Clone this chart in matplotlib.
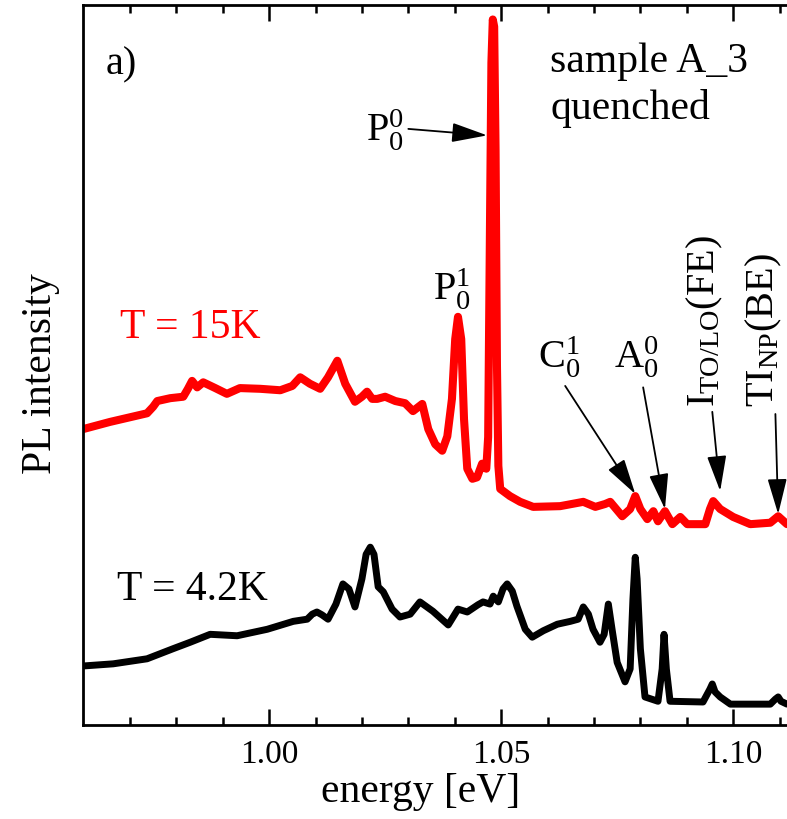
import matplotlib
matplotlib.use("Agg")
import matplotlib.pyplot as plt

# PL spectra, sample A_3 quenched
energy_15K = [0.9599, 0.9657, 0.9737, 0.9750, 0.9759, 0.9787, 0.9815, 0.9825, 0.9834,
              0.9845, 0.9858, 0.9884, 0.9909, 0.9937, 0.9981, 1.0024, 1.0050, 1.0067,
              1.0088, 1.0110, 1.0127, 1.0147, 1.0164, 1.0185, 1.0200, 1.0211, 1.0222,
              1.0233, 1.0250, 1.0272, 1.0293, 1.0310, 1.0330, 1.0343, 1.0358, 1.0373,
              1.0384, 1.0394, 1.0401, 1.0407, 1.0414, 1.0420, 1.0427, 1.0438, 1.0448,
              1.0459, 1.0468, 1.0472, 1.0476, 1.0479, 1.0482, 1.0485, 1.0488, 1.0491,
              1.0494, 1.0498, 1.0519, 1.0541, 1.0569, 1.0627, 1.0677, 1.0703, 1.0724,
              1.0735, 1.0761, 1.0778, 1.0789, 1.0800, 1.0815, 1.0828, 1.0838, 1.0853,
              1.0869, 1.0886, 1.0901, 1.0940, 1.0950, 1.0957, 1.0972, 1.1000, 1.1037,
              1.1080, 1.1097, 1.1116]
pl_15K = [41.1, 42.1, 43.3, 44.2, 45.0, 45.4, 45.6, 46.7, 47.8,
          46.9, 47.6, 46.8, 46.0, 46.8, 46.7, 46.5, 47.1, 48.3,
          47.4, 46.7, 48.3, 50.6, 47.4, 44.9, 45.6, 46.3, 45.3,
          45.3, 45.6, 45.0, 44.7, 43.6, 44.6, 41.1, 39.0, 38.1,
          40.1, 45.3, 53.6, 56.7, 53.6, 42.5, 35.6, 34.2, 34.4,
          36.3, 35.6, 40.0, 70.0, 92.0, 98.0, 97.0, 80.0, 50.0,
          36.0, 32.8, 31.8, 31.0, 30.3, 30.4, 31.0, 30.3, 30.7,
          31.0, 29.0, 30.0, 31.8, 30.0, 28.6, 29.7, 28.3, 29.7,
          27.9, 28.9, 27.9, 27.9, 30.0, 31.1, 30.0, 28.9, 27.9,
          28.1, 29.0, 27.9]

energy_4K = [0.9599, 0.9664, 0.9737, 0.9793, 0.9830, 0.9873, 0.9931, 0.9996, 1.0052,
             1.0082, 1.0093, 1.0103, 1.0114, 1.0127, 1.0144, 1.0159, 1.0172, 1.0185,
             1.0200, 1.0209, 1.0218, 1.0226, 1.0235, 1.0246, 1.0265, 1.0282, 1.0304,
             1.0325, 1.0353, 1.0386, 1.0407, 1.0427, 1.0450, 1.0461, 1.0476, 1.0483,
             1.0494, 1.0504, 1.0513, 1.0524, 1.0534, 1.0552, 1.0567, 1.0591, 1.0621,
             1.0649, 1.0666, 1.0677, 1.0688, 1.0698, 1.0713, 1.0722, 1.0731, 1.0739,
             1.0750, 1.0767, 1.0778, 1.0784, 1.0789, 1.0793, 1.0800, 1.0810, 1.0838,
             1.0847, 1.0851, 1.0856, 1.0864, 1.0935, 1.0950, 1.0955, 1.0961, 1.0972,
             1.0994, 1.1080, 1.1091, 1.1097, 1.1103, 1.1116]
pl_4K = [8.2, 8.5, 9.2, 10.6, 11.5, 12.6, 12.4, 13.3, 14.4,
         14.7, 15.4, 15.7, 15.3, 14.7, 16.8, 19.6, 18.9, 16.4,
         20.3, 23.7, 24.7, 23.7, 19.2, 18.5, 16.1, 15.0, 15.4,
         17.1, 15.8, 13.9, 16.1, 15.7, 16.7, 17.1, 16.8, 17.9,
         17.1, 18.9, 19.6, 18.6, 16.5, 13.3, 12.2, 13.1, 14.0,
         14.4, 14.7, 16.4, 15.4, 13.3, 11.5, 12.6, 16.8, 13.3,
         8.7, 6.0, 7.8, 17.5, 23.3, 20.3, 10.6, 3.9, 3.3,
         7.8, 12.6, 7.8, 3.3, 3.2, 5.0, 5.7, 4.6, 3.9,
         2.9, 2.9, 3.6, 3.9, 3.3, 2.9]

# peak labels: text, text position, arrow start, arrow tip
peak_labels = [r"$\mathrm{C_0^1}$", r"$\mathrm{A_0^0}$"]
peak_text_xy = [(1.0625, 51.2), (1.0791, 51.2)]
peak_start = [(1.0638, 47.1), (1.0806, 46.9)]
peak_tip = [(1.0789, 32.1), (1.0853, 30.0)]

rot_labels = [r"$\mathrm{I_{TO/LO}(FE)}$", r"$\mathrm{TI_{NP}(BE)}$"]
rot_text_xy = [(1.0940, 44.3), (1.1067, 44.3)]
rot_start = [(1.0955, 43.5), (1.1091, 43.2)]
rot_tip = [(1.0972, 32.5), (1.1097, 29.3)]

plt.rcParams['font.family'] = ['Liberation Serif', 'DejaVu Serif']
plt.rcParams['mathtext.fontset'] = 'custom'
plt.rcParams['mathtext.rm'] = 'Liberation Serif'
plt.rcParams['mathtext.it'] = 'Liberation Serif:italic'
plt.rcParams['mathtext.bf'] = 'Liberation Serif:bold'


def arrow(ax, start, tip):
    ax.annotate("", xy=tip, xytext=start,
                arrowprops=dict(arrowstyle="-|>,head_length=1.1,head_width=0.3",
                                color="black", lw=1.3, mutation_scale=20,
                                shrinkA=0, shrinkB=0))


def main():
    fig = plt.figure(figsize=(7.87, 8.2), dpi=100)
    ax = fig.add_axes([0.1055, 0.1146, 0.8945, 0.878])

    ax.plot(energy_15K, pl_15K, color="red", lw=5.8,
            solid_joinstyle="round", solid_capstyle="round")
    ax.plot(energy_4K, pl_4K, color="black", lw=5.0,
            solid_joinstyle="round", solid_capstyle="round")

    ax.set_xlim(0.9599, 1.1116)
    ax.set_ylim(0, 100)
    ax.set_xticks([1.00, 1.05, 1.10])
    ax.set_xticklabels(["1.00", "1.05", "1.10"])
    ax.set_xticks([0.97 + 0.01 * i for i in range(15)], minor=True)
    ax.set_yticks([])
    ax.tick_params(axis="x", which="both", direction="in", top=True,
                   labelsize=24, width=1.8, pad=10)
    ax.tick_params(axis="x", which="major", length=11.5)
    ax.tick_params(axis="x", which="minor", length=5.8)
    for s in ["left", "bottom", "top"]:
        ax.spines[s].set_linewidth(2.0)
    ax.spines["right"].set_visible(False)

    ax.set_xlabel("energy [eV]", fontsize=30)
    ax.xaxis.set_label_coords(0.48, -0.065)
    ax.set_ylabel("PL intensity", fontsize=30)
    ax.yaxis.set_label_coords(-0.033, 0.49)

    ax.text(0.9647, 91.8, "a)", fontsize=29, va="center")
    ax.text(1.0606, 92.2, "sample A_3", fontsize=30, va="center")
    ax.text(1.0606, 85.8, "quenched", fontsize=30, va="center")
    ax.text(0.9679, 55.3, "T = 15K", fontsize=30, color="red", va="center")
    ax.text(0.9672, 18.9, "T = 4.2K", fontsize=30, color="black", va="center")

    ax.text(1.0290, 82.8, r"$\mathrm{P_0^0}$", fontsize=29, ha="right", va="center")
    arrow(ax, (1.0300, 82.8), (1.0470, 81.9))
    ax.text(1.0394, 60.6, r"$\mathrm{P_0^1}$", fontsize=29, ha="center", va="center")

    for lab, xy, st, tp in zip(peak_labels, peak_text_xy, peak_start, peak_tip):
        ax.text(xy[0], xy[1], lab, fontsize=29, ha="center", va="center")
        arrow(ax, st, tp)
    for lab, xy, st, tp in zip(rot_labels, rot_text_xy, rot_start, rot_tip):
        ax.text(xy[0], xy[1], lab, fontsize=29, ha="center", va="bottom",
                rotation=90)
        arrow(ax, st, tp)

    fig.savefig("out.png", dpi=100)


if __name__ == "__main__":
    main()
